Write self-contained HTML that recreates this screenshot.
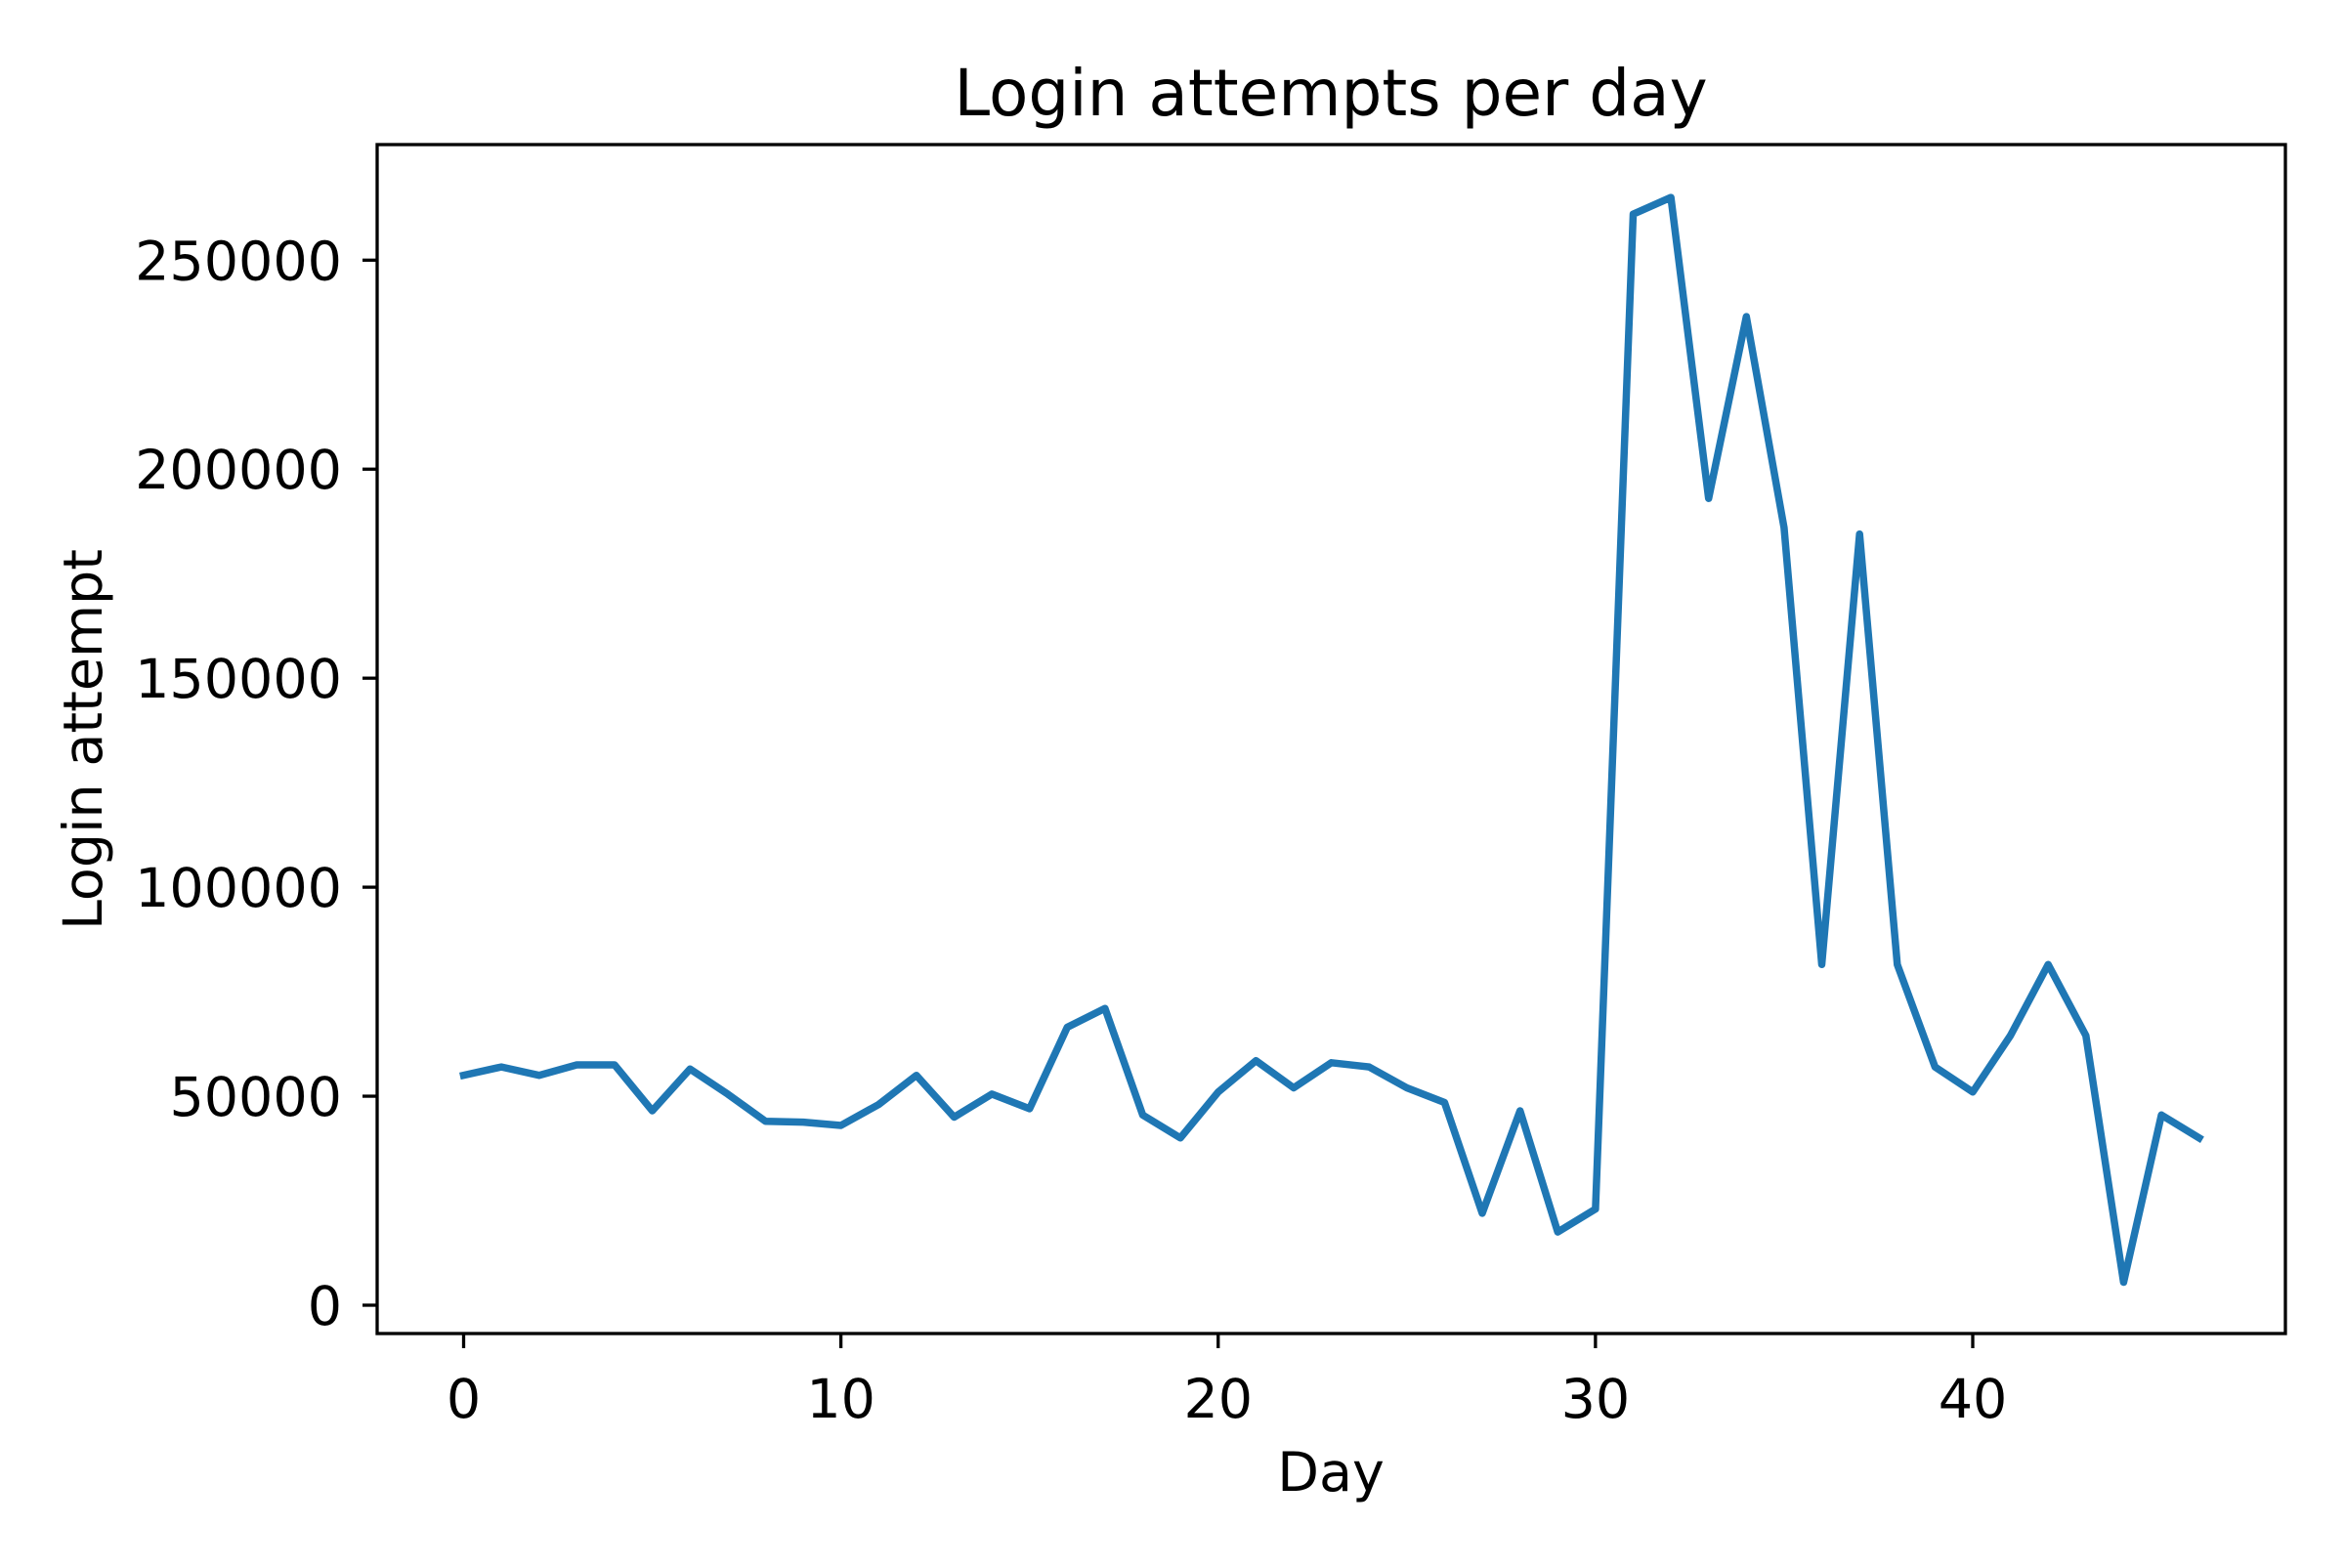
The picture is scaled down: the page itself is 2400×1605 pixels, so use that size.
<!DOCTYPE html>
<html><head><meta charset="utf-8"><style>
html,body{margin:0;padding:0;background:#fff;}
svg text{font-family:"DejaVu Sans","Liberation Sans",sans-serif;fill:#000;}
</style></head><body>
<svg id="chart" width="2400" height="1600" viewBox="0 0 2400 1600" xmlns="http://www.w3.org/2000/svg">
<rect width="2400" height="1600" fill="#fff"/>
<text x="1362" y="118" font-size="66" text-anchor="middle">Login attempts per day</text>
<text x="1362" y="1526" font-size="55.5" text-anchor="middle">Day</text>
<text transform="translate(104,757) rotate(-90)" font-size="55.5" text-anchor="middle">Login attempt</text>
<g id="plot"></g>
<rect x="386" y="148" width="1953" height="1217" fill="none" stroke="#000" stroke-width="3.3"/>
</svg>
<script>
const days = [0,1,2,3,4,5,6,7,8,9,10,11,12,13,14,15,16,17,18,19,20,21,22,23,24,25,26,27,28,29,30,31,32,33,34,35,36,37,38,39,40,41,42,43,44,45,46];
const attempts = [55000,57000,55000,57500,57500,46500,56500,50500,44000,43800,43000,48000,55000,45000,50500,47000,66500,71000,45500,40000,51000,58500,52000,58000,57000,52000,48500,22000,46500,17500,23000,261000,265000,193000,236500,186000,81500,184500,81500,57000,51000,64500,81500,64500,5500,45500,40000];
const xTicks = [0,10,20,30,40];
const yTicks = [0,50000,100000,150000,200000,250000];

const NS='http://www.w3.org/2000/svg';
const g=document.getElementById('plot');
function xs(v){return 474.5+(2019-474.5)*v/40;}
function ys(v){return 1336-(1336-266.3)*v/250000;}
function mk(t,a){const e=document.createElementNS(NS,t);for(const k in a)e.setAttribute(k,a[k]);g.appendChild(e);return e;}
xTicks.forEach(t=>{
  const l=mk('line',{x1:xs(t),x2:xs(t),y1:1365,y2:1380,stroke:'#000','stroke-width':3.3});
  
  
  const tx=mk('text',{x:xs(t),y:1451,'font-size':55.5,'text-anchor':'middle'});
  tx.textContent=t;
  
  
});
yTicks.forEach(t=>{
  const l=mk('line',{x1:371,x2:386,y1:ys(t),y2:ys(t),stroke:'#000','stroke-width':3.3});
  
  
  const tx=mk('text',{x:350,y:ys(t)+20,'font-size':55.5,'text-anchor':'end'});
  tx.textContent=t;
  
  
});
const pts=days.map((d,i)=>xs(d).toFixed(1)+','+ys(attempts[i]).toFixed(1)).join(' ');
const pl=mk('polyline',{points:pts,fill:'none',stroke:'#1f77b4','stroke-width':7.5,'stroke-linejoin':'round','stroke-linecap':'square'});


</script>
</body></html>
